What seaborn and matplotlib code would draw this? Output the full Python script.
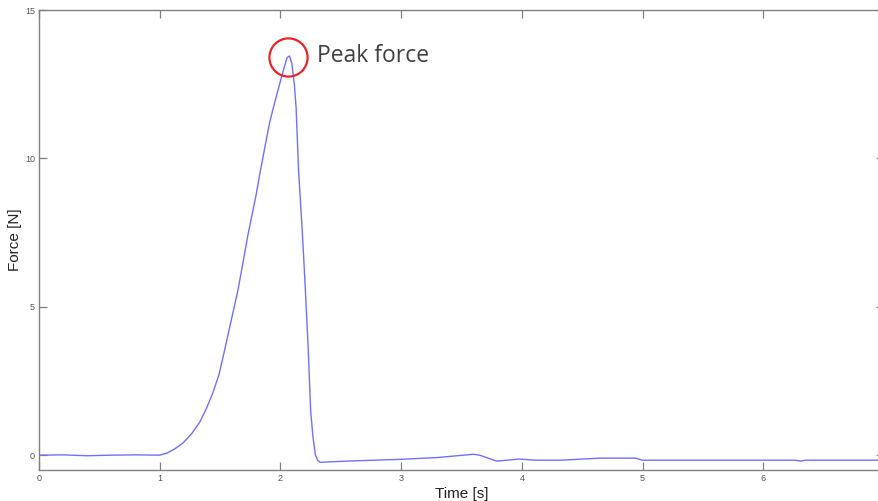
import matplotlib
matplotlib.use("Agg")
import matplotlib.pyplot as plt
import seaborn as sns
import pandas as pd

# Force trace sampled from the sensor log
time_s = [0.0, 0.2, 0.4, 0.6, 0.8, 1.0, 1.06, 1.12, 1.19, 1.26, 1.33, 1.39,
          1.44, 1.49, 1.53, 1.59, 1.65, 1.73, 1.80, 1.83, 1.91, 1.96, 2.00,
          2.03, 2.055, 2.075, 2.095, 2.115, 2.13, 2.15, 2.18, 2.20, 2.23, 2.25,
          2.27, 2.29, 2.31, 2.33, 2.55, 3.0, 3.3, 3.6, 3.65, 3.72, 3.79, 3.9,
          3.98, 4.11, 4.32, 4.65, 4.94, 5.0, 5.45, 6.26, 6.31, 6.35, 7.0]
force_n = [0.0, 0.01, -0.02, 0.0, 0.01, 0.0, 0.07, 0.2, 0.40, 0.7, 1.1, 1.6,
           2.1, 2.7, 3.4, 4.5, 5.6, 7.4, 8.8, 9.5, 11.2, 12.0, 12.6,
           13.05, 13.4, 13.45, 13.2, 12.5, 11.7, 9.6, 7.6, 6.1, 3.6, 1.5,
           0.6, 0.0, -0.18, -0.24, -0.2, -0.14, -0.08, 0.03, 0.0, -0.1, -0.2, -0.16,
           -0.13, -0.17, -0.17, -0.1, -0.1, -0.17, -0.17, -0.17, -0.2, -0.17, -0.17]

x_ticks = [0, 1, 2, 3, 4, 5, 6]
y_ticks = [0, 5, 10, 15]
peak_label = "Peak force"

df = pd.DataFrame({"Time [s]": time_s, "Force [N]": force_n})

sns.set_theme(style="white")
plt.rcParams["font.family"] = ["Liberation Sans", "DejaVu Sans"]

fig = plt.figure(figsize=(8.79, 5.01), dpi=100)
ax = fig.add_axes([39 / 879, 31 / 501, 845 / 879, 460 / 501])

sns.lineplot(data=df, x="Time [s]", y="Force [N]", ax=ax,
             color="#7070ff", linewidth=1.0, sort=False)

# highlight the maximum
i_peak = max(range(len(force_n)), key=lambda i: force_n[i])
pt, pf = time_s[i_peak], force_n[i_peak]
ax.plot([pt - 0.015], [pf - 0.05], marker="o", markersize=27.5,
        markerfacecolor="none", markeredgecolor="#e8262a", markeredgewidth=1.6)
ax.annotate(peak_label, xy=(pt, pf), xytext=(20, 0), textcoords="offset points",
            fontsize=16.5, color="#404040", va="center", ha="left",
            family=["Open Sans", "DejaVu Sans"])

ax.set_xlim(0, 7)
ax.set_ylim(-0.5, 15)
ax.set_xticks(x_ticks)
ax.set_yticks(y_ticks)
ax.set_xticklabels([str(v) for v in x_ticks])
ax.set_yticklabels([str(v) for v in y_ticks])

for side in ["left", "bottom", "top", "right"]:
    ax.spines[side].set_visible(True)
    ax.spines[side].set_color("#808080")
    ax.spines[side].set_linewidth(1.0)

ax.tick_params(axis="both", which="major", direction="in", length=6,
               width=0.9, color="#808080", labelsize=6.5, labelcolor="#555555",
               top=True, right=True, bottom=True, left=True, pad=3)

ax.set_xlabel("Time [s]", fontsize=11, color="#222222", labelpad=3)
ax.set_ylabel("Force [N]", fontsize=11, color="#222222", labelpad=2)

fig.savefig("out.png", dpi=100, facecolor="white")
